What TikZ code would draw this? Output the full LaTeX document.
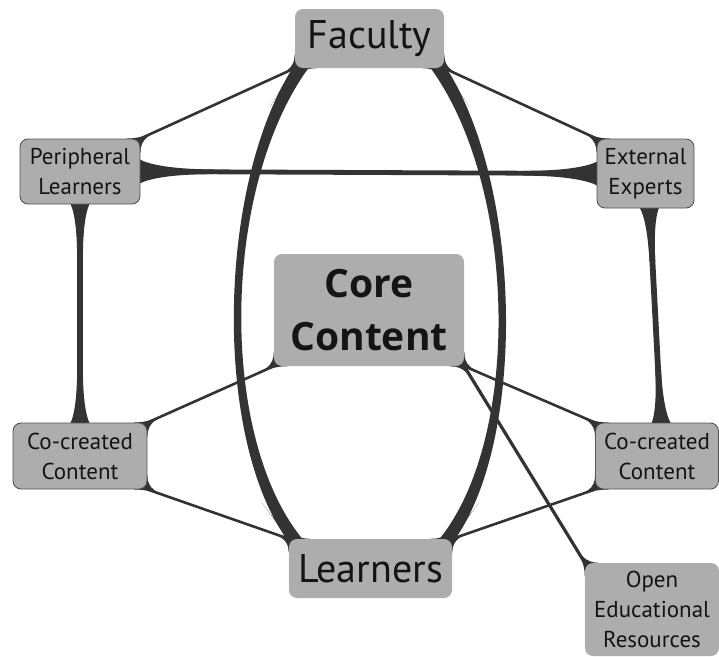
\documentclass[tikz,border=0pt]{standalone}
\usepackage{fontspec}
\setmainfont{PT Sans}
\newfontfamily\corefont{Open Sans}
\usetikzlibrary{calc,decorations.markings,backgrounds}
\definecolor{boxgray}{HTML}{ADADAD}
\definecolor{bordergray}{HTML}{555555}
\definecolor{conncol}{HTML}{333333}
\definecolor{textc}{HTML}{141414}
% flare along a path end: #1 = half width at the end, #2 = half width of the line, #3 = length
\newcommand\flareshape[3]{\fill[conncol] (0,#1) .. controls (#3*0.04,#2+0.75*#1-0.75*#2) and (#3*0.27,#2) .. (#3,#2) -- (#3,-#2) .. controls (#3*0.27,-#2) and (#3*0.04,-#2-0.75*#1+0.75*#2) .. (0,-#1) -- cycle;}
% flare at a box corner: #1 corner, #2 and #3 offsets along the two box edges, #4 direction point, #5 length
\newcommand\cflare[5]{\fill[conncol] ($(#1)+(#2)$) .. controls (#1) and ($(#1)!#5pt*0.4!(#4)$) .. ($(#1)!#5pt!(#4)$)
    .. controls ($(#1)!#5pt*0.4!(#4)$) and (#1) .. ($(#1)+(#3)$) -- cycle;}
\tikzset{
  box/.style={fill=boxgray, rounded corners=8pt, inner sep=0pt, align=center, text=textc},
  smallbox/.style={box, draw=bordergray, line width=0.9pt, font=\fontsize{23}{30}\selectfont},
  bigbox/.style={box, font=\fontsize{40}{53}\selectfont},
  flares/.style n args={5}{postaction={decorate},
    decoration={markings,
      mark=at position 0 with {\flareshape{#2}{#1}{#3}},
      mark=at position 0.9999 with {\flareshape{#4}{#1}{-#5}}}},
  conn/.style n args={5}{draw=conncol, line width=2*#1pt, flares={#1}{#2}{#3}{#4}{#5}},
  thinline/.style={draw=conncol, line width=2.6pt},
}
\begin{document}
\begin{tikzpicture}[x=1pt,y=-1pt]
\useasboundingbox (0,0) rectangle (719,656);
\node[bigbox, minimum width=149pt, minimum height=59pt] (fac) at (369.5,38.5) {Faculty};
\node[smallbox, minimum width=120pt, minimum height=65pt] (per) at (80,171.5) {Peripheral\\Learners};
\node[smallbox, minimum width=97pt, minimum height=69pt] (ext) at (645.5,173.5) {External\\Experts};
\node[bigbox, font=\fontsize{39}{53}\selectfont\corefont\bfseries, minimum width=190pt, minimum height=112pt] (core) at (369,310) {Core\\Content};
\node[smallbox, minimum width=134pt, minimum height=66pt] (ccl) at (80,456) {Co-created\\Content};
\node[smallbox, minimum width=123pt, minimum height=66pt] (ccr) at (657,456) {Co-created\\Content};
\node[bigbox, minimum width=163pt, minimum height=59pt] (lea) at (370.5,568.5) {Learners};
\node[box, font=\fontsize{23}{30}\selectfont, minimum width=134pt, minimum height=93pt] (oer) at (652,609.5) {Open\\Educational\\Resources};
\begin{scope}[on background layer]
% thin corner-to-corner connectors
\draw[thinline] (fac.south west) -- (per.north east);
\cflare{fac.south west}{14,0}{0,-14}{per.north east}{26}
\cflare{per.north east}{-14,0}{0,14}{fac.south west}{26}
\draw[thinline] (fac.south east) -- (ext.north west);
\cflare{fac.south east}{-14,0}{0,-14}{ext.north west}{26}
\cflare{ext.north west}{14,0}{0,14}{fac.south east}{26}
\draw[thinline] (core.south west) -- (ccl.north east);
\cflare{core.south west}{14,0}{0,-14}{ccl.north east}{26}
\cflare{ccl.north east}{-14,0}{0,14}{core.south west}{26}
\draw[thinline] (core.south east) -- (ccr.north west);
\cflare{core.south east}{-14,0}{0,-14}{ccr.north west}{26}
\cflare{ccr.north west}{14,0}{0,14}{core.south east}{26}
\draw[thinline, line width=3.2pt] (core.south east) -- (oer.north west);
\cflare{core.south east}{-14,0}{0,-14}{oer.north west}{26}
\cflare{oer.north west}{14,0}{0,14}{core.south east}{26}
\draw[thinline] (lea.north west) -- (ccl.south east);
\cflare{lea.north west}{14,0}{0,14}{ccl.south east}{26}
\cflare{ccl.south east}{-14,0}{0,-14}{lea.north west}{26}
\draw[thinline] (lea.north east) -- (ccr.south west);
\cflare{lea.north east}{-14,0}{0,14}{ccr.south west}{26}
\cflare{ccr.south west}{14,0}{0,-14}{lea.north east}{26}
% edge-to-edge connectors
\draw[conn={2.4}{13}{75}{13}{75}] ($(per.east)+(-2,0)$) -- ($(ext.west)+(2,0)$);
\draw[conn={2.9}{10.5}{55}{10.5}{55}] ($(per.south)+(0,-2)$) -- ($(ccl.north)+(0,2)$);
\draw[conn={2.9}{10.5}{55}{10.5}{55}] ($(ext.south)+(4,-2)$) -- ($(ccr.north)+(4,2)$);
% left arc Faculty -- Learners
\coordinate (lc1) at (219,185);
\coordinate (lc2) at (215,440);
\coordinate (la1) at ($(fac.south west)+(7,-2)$);
\coordinate (la2) at ($(lea.north west)+(8,3)$);
\fill[conncol] ($(la1)+(8,0)$) .. controls ($(lc1)+(2.3,0)$) and ($(lc2)+(2.3,0)$) .. ($(la2)+(8,0)$)
  -- ($(la2)+(-8,0)$) .. controls ($(lc2)+(-2.3,0)$) and ($(lc1)+(-2.3,0)$) .. ($(la1)+(-8,0)$) -- cycle;
\cflare{fac.south west}{22,0}{0,-12}{lc1}{45}
\cflare{lea.north west}{22,0}{0,12}{lc2}{45}
% right arc Faculty -- Learners
\coordinate (rc1) at (520,185);
\coordinate (rc2) at (525,440);
\coordinate (ra1) at ($(fac.south east)+(-7,-2)$);
\coordinate (ra2) at ($(lea.north east)+(-7,3)$);
\fill[conncol] ($(ra1)+(8,0)$) .. controls ($(rc1)+(2.3,0)$) and ($(rc2)+(2.3,0)$) .. ($(ra2)+(8,0)$)
  -- ($(ra2)+(-8,0)$) .. controls ($(rc2)+(-2.3,0)$) and ($(rc1)+(-2.3,0)$) .. ($(ra1)+(-8,0)$) -- cycle;
\cflare{fac.south east}{-22,0}{0,-12}{rc1}{45}
\cflare{lea.north east}{-22,0}{0,12}{rc2}{45}
\end{scope}
\end{tikzpicture}
\end{document}
